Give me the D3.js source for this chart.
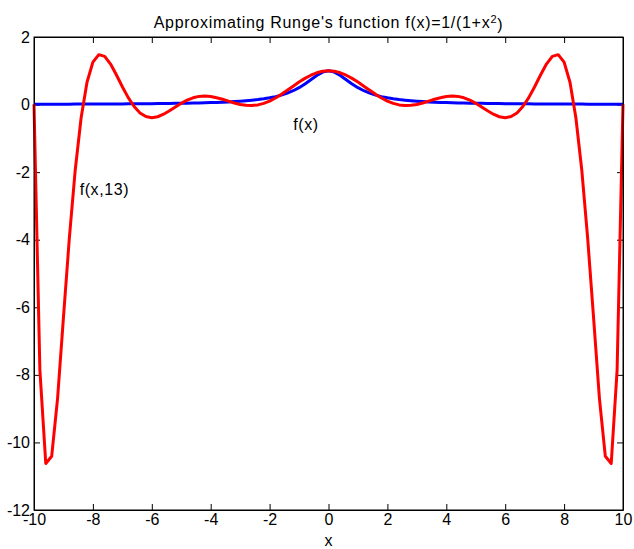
<!doctype html>
<html lang="en">
<head>
<meta charset="utf-8">
<script src="https://cdn.jsdelivr.net/npm/d3@7"></script>
<style>
  body { margin: 0; background: #fff; }
  svg { display: block; font-family: "Liberation Sans", Arial, Helvetica, sans-serif; }
</style>
</head>
<body>
<script>
// sample points along x
const xs = [-10,-9.8,-9.6,-9.4,-9.2,-9,-8.8,-8.6,-8.4,-8.2,-8,-7.8,-7.6,-7.4,-7.2,-7,-6.8,-6.6,-6.4,-6.2,
  -6,-5.8,-5.6,-5.4,-5.2,-5,-4.8,-4.6,-4.4,-4.2,-4,-3.8,-3.6,-3.4,-3.2,-3,-2.8,-2.6,-2.4,-2.2,
  -2,-1.8,-1.6,-1.4,-1.2,-1,-0.8,-0.6,-0.4,-0.2,0,0.2,0.4,0.6,0.8,1,1.2,1.4,1.6,1.8,
  2,2.2,2.4,2.6,2.8,3,3.2,3.4,3.6,3.8,4,4.2,4.4,4.6,4.8,5,5.2,5.4,5.6,5.8,
  6,6.2,6.4,6.6,6.8,7,7.2,7.4,7.6,7.8,8,8.2,8.4,8.6,8.8,9,9.2,9.4,9.6,9.8,10];

// f(x) (blue)
const fValues = [0.0099,0.0103,0.0107,0.0112,0.0117,0.0122,0.0127,0.0133,0.0140,0.0147,
  0.0154,0.0162,0.0170,0.0179,0.0189,0.0200,0.0212,0.0224,0.0238,0.0253,
  0.0270,0.0289,0.0309,0.0332,0.0357,0.0385,0.0416,0.0451,0.0491,0.0536,
  0.0588,0.0648,0.0716,0.0796,0.0890,0.1,0.1131,0.1289,0.1479,0.1712,
  0.2,0.2358,0.2809,0.3378,0.4098,0.5,0.6098,0.7353,0.8621,0.9615,
  1,
  0.9615,0.8621,0.7353,0.6098,0.5,0.4098,0.3378,0.2809,0.2358,0.2,
  0.1712,0.1479,0.1289,0.1131,0.1,0.0890,0.0796,0.0716,0.0648,0.0588,
  0.0536,0.0491,0.0451,0.0416,0.0385,0.0357,0.0332,0.0309,0.0289,0.0270,
  0.0253,0.0238,0.0224,0.0212,0.0200,0.0189,0.0179,0.0170,0.0162,0.0154,
  0.0147,0.0140,0.0133,0.0127,0.0122,0.0117,0.0112,0.0107,0.0103,0.0099];

// f(x,13) (red)
const pValues = [0.0099,-7.8574,-10.6234,-10.4103,-8.7026,-6.2981,-3.9543,-1.9364,-0.3897,0.6595,
  1.2543,1.4768,1.4269,1.1986,0.8760,0.5287,0.2066,-0.0582,-0.2466,-0.3552,
  -0.3888,-0.3605,-0.2863,-0.1840,-0.0705,0.0385,0.1319,0.2012,0.2423,0.2546,
  0.2406,0.2034,0.1563,0.1010,0.0477,0.0041,-0.0230,-0.0288,-0.0100,0.0345,
  0.1035,0.1943,0.3022,0.4213,0.5446,0.6651,0.7754,0.8691,0.9403,0.9848,
  1,
  0.9848,0.9403,0.8691,0.7754,0.6651,0.5446,0.4213,0.3022,0.1943,0.1035,
  0.0345,-0.0100,-0.0288,-0.0230,0.0041,0.0477,0.1010,0.1563,0.2034,0.2406,
  0.2546,0.2423,0.2012,0.1319,0.0385,-0.0705,-0.1840,-0.2863,-0.3605,-0.3888,
  -0.3552,-0.2466,-0.0582,0.2066,0.5287,0.8760,1.1986,1.4269,1.4768,1.2543,
  0.6595,-0.3897,-1.9364,-3.9543,-6.2981,-8.7026,-10.4103,-10.6234,-7.8574,0.0099];

const xTicks = [-10,-8,-6,-4,-2,0,2,4,6,8,10];
const yTicks = [-12,-10,-8,-6,-4,-2,0,2];

const width = 634, height = 549;
const margin = {left: 34, right: 11, top: 37, bottom: 39};

const svg = d3.select("body")
  .append("svg")
  .attr("width", width)
  .attr("height", height);

svg.append("rect")
  .attr("width", width)
  .attr("height", height)
  .attr("fill", "#fff");

const x = d3.scaleLinear().domain([-10, 10]).range([margin.left, width - margin.right]);
const y = d3.scaleLinear().domain([-12, 2]).range([height - margin.bottom, margin.top]);

const fmt = d => String(d);
const tick = 6;

svg.append("g")
  .attr("transform", `translate(0,${y(-12)})`)
  .call(d3.axisBottom(x).tickValues(xTicks).tickFormat(fmt).tickSize(-tick).tickSizeOuter(0).tickPadding(4));

svg.append("g")
  .attr("transform", `translate(0,${y(2)})`)
  .call(d3.axisTop(x).tickValues(xTicks).tickFormat("").tickSize(-tick).tickSizeOuter(0));

svg.append("g")
  .attr("transform", `translate(${x(-10)},0)`)
  .call(d3.axisLeft(y).tickValues(yTicks).tickFormat(fmt).tickSize(-tick).tickSizeOuter(0).tickPadding(4));

svg.append("g")
  .attr("transform", `translate(${x(10)},0)`)
  .call(d3.axisRight(y).tickValues(yTicks).tickFormat("").tickSize(-tick).tickSizeOuter(0));

svg.selectAll(".tick text")
  .attr("fill", "#000")
  .style("font-size", "16px")
  .style("font-family", "'Liberation Sans', Arial, sans-serif");
svg.selectAll(".tick line").attr("stroke", "#000");
svg.selectAll(".domain").attr("stroke", "#000");

const line = d3.line()
  .x((d, i) => x(xs[i]))
  .y(d => y(d));

svg.append("path")
  .datum(fValues)
  .attr("fill", "none")
  .attr("stroke", "#0000ff")
  .attr("stroke-width", 3)
  .attr("stroke-linejoin", "round")
  .attr("d", line);

svg.append("path")
  .datum(pValues)
  .attr("fill", "none")
  .attr("stroke", "#ff0000")
  .attr("stroke-width", 3)
  .attr("stroke-linejoin", "round")
  .attr("d", line);

// axes box
svg.append("rect")
  .attr("x", x(-10))
  .attr("y", y(2))
  .attr("width", x(10) - x(-10))
  .attr("height", y(-12) - y(2))
  .attr("fill", "none")
  .attr("stroke", "#000")
  .attr("stroke-width", 1);

const title = svg.append("text")
  .attr("x", (x(-10) + x(10)) / 2)
  .attr("y", 28)
  .attr("text-anchor", "middle")
  .style("font-size", "16px")
  .style("letter-spacing", "0.7px");
title.append("tspan").text("Approximating Runge's function f(x)=1/(1+x");
title.append("tspan").attr("dy", "-0.45em").style("font-size", "11px").text("2");
title.append("tspan").attr("dy", "0.45em").text(")");

svg.append("text")
  .attr("x", (x(-10) + x(10)) / 2)
  .attr("y", 546)
  .attr("text-anchor", "middle")
  .style("font-size", "16px")
  .text("x");

svg.append("text")
  .attr("x", x(-1.2))
  .attr("y", y(-0.6))
  .attr("dy", "0.35em")
  .style("font-size", "16px")
  .style("letter-spacing", "0.6px")
  .text("f(x)");

svg.append("text")
  .attr("x", x(-8.45))
  .attr("y", y(-2.5))
  .attr("dy", "0.35em")
  .style("font-size", "16px")
  .style("letter-spacing", "0.6px")
  .text("f(x,13)");
</script>
</body>
</html>
